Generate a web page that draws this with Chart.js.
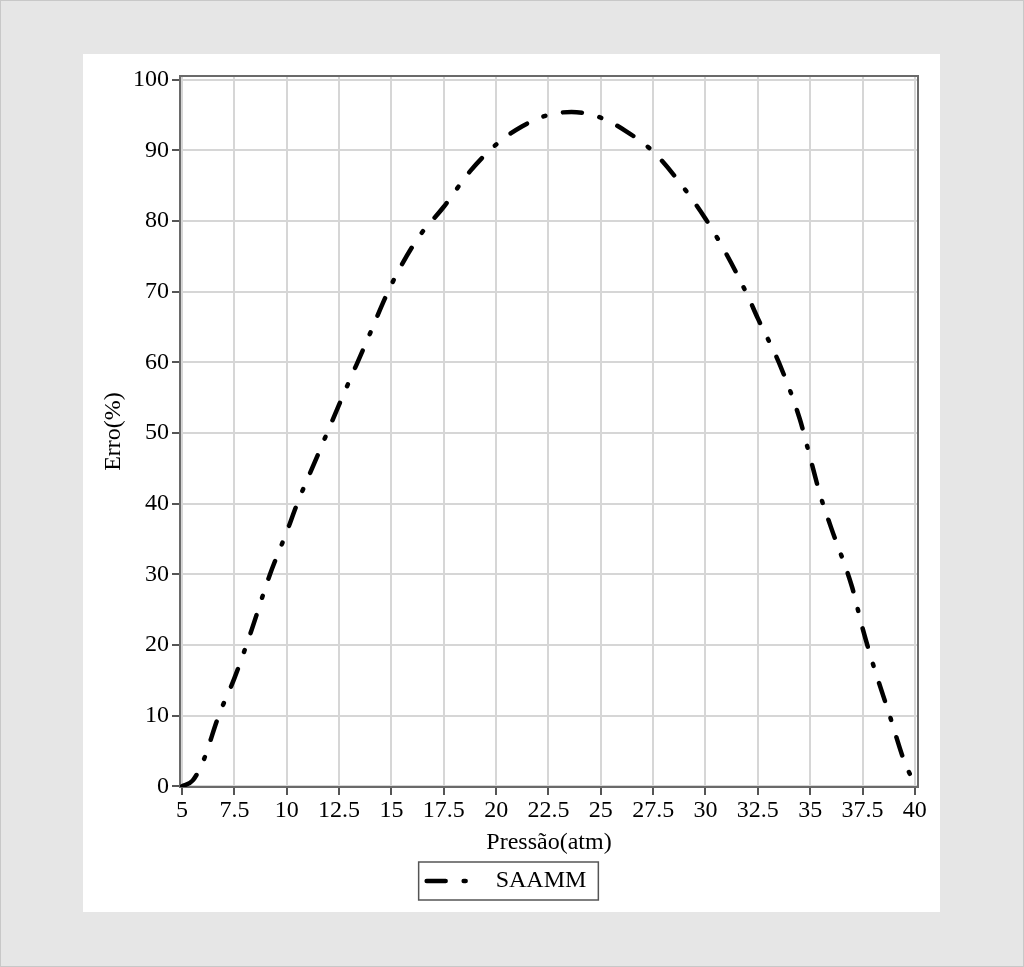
<!DOCTYPE html>
<html><head><meta charset="utf-8">
<script src="https://cdn.jsdelivr.net/npm/chart.js@4/dist/chart.umd.min.js"></script>
<style>
html,body{margin:0;padding:0;}
body{width:1024px;height:967px;background:#e6e6e6;position:relative;overflow:hidden;box-sizing:border-box;border:1px solid #c8c8c8;}
#panel{position:absolute;left:82px;top:53px;width:857px;height:858px;background:#fff;}
canvas{display:block;}
</style></head><body>
<div id="panel"><canvas id="c" width="857" height="858"></canvas></div>
<script>
const pressure = [5, 5.5, 6, 6.75, 7.5, 8.25, 9.2, 10, 10.5, 11.5, 12.5, 13.75, 15, 16.25, 17.5, 18.75, 20, 21.25, 22.5, 23.6, 25, 26.25, 27.5, 28.75, 30, 31, 32, 32.5, 33.5, 34.5, 35, 35.5, 36, 37, 37.5, 38, 38.8, 39.5, 40];
const erro = [0, 0.8, 3.5, 10, 15.3, 21.5, 30, 36, 40, 47, 54, 62.5, 71, 77.5, 82, 87, 90.8, 93.4, 95, 95.4, 94.6, 92.6, 89.8, 85.5, 80.3, 75.3, 69.5, 66.2, 60, 52, 46.5, 41, 36.6, 28.2, 22.4, 17.3, 10, 3.5, 0.3];
const xTicks = [5, 7.5, 10, 12.5, 15, 17.5, 20, 22.5, 25, 27.5, 30, 32.5, 35, 37.5, 40];
const yTicks = [0, 10, 20, 30, 40, 50, 60, 70, 80, 90, 100];
const seriesName = 'SAAMM';
const xTitle = 'Pressão(atm)';
const yTitle = 'Erro(%)';

const FONT = 'Liberation Serif, Times New Roman, serif';
const DASH = [19, 18, 2, 18];

const framePlugin = {
  id: 'frame',
  afterDraw(chart) {
    const {ctx, chartArea: a} = chart;
    ctx.save();
    ctx.strokeStyle = '#6a6a6a';
    ctx.lineWidth = 2;
    ctx.beginPath();
    ctx.moveTo(a.left, a.top); ctx.lineTo(a.right, a.top); ctx.lineTo(a.right, a.bottom);
    ctx.stroke();
    const lg = chart.legend;
    if (lg && lg.legendHitBoxes && lg.legendHitBoxes.length) {
      const h = lg.legendHitBoxes[0];
      ctx.strokeStyle = '#555';
      ctx.lineWidth = 1.5;
      ctx.strokeRect(h.left - 8, h.top - 7, h.width + 20, h.height + 14);
    }
    ctx.restore();
  }
};

new Chart(document.getElementById('c'), {
  type: 'line',
  data: {
    datasets: [{
      label: seriesName,
      data: pressure.map((p, i) => ({x: p, y: erro[i]})),
      borderColor: '#000',
      backgroundColor: '#000',
      borderWidth: 4.5,
      borderDash: DASH,
      borderCapStyle: 'round',
      pointRadius: 0,
      fill: false,
      cubicInterpolationMode: 'monotone'
    }]
  },
  options: {
    responsive: false,
    animation: false,
    devicePixelRatio: 1,
    layout: {padding: {left: 12, right: 22, top: 22, bottom: 9}},
    plugins: {
      legend: {
        position: 'bottom',
        labels: {
          usePointStyle: true,
          pointStyle: 'line',
          pointStyleWidth: 57,
          color: '#000',
          padding: 8,
          font: {family: FONT, size: 24},
          generateLabels: chart => Chart.defaults.plugins.legend.labels.generateLabels(chart).map(l => Object.assign(l, {
            lineDash: DASH, lineWidth: 4.5, strokeStyle: '#000', lineCap: 'round', pointStyle: 'line'
          }))
        }
      },
      tooltip: {enabled: false}
    },
    scales: {
      x: {
        type: 'linear',
        min: 4.9, max: 40.15,
        afterBuildTicks: s => { s.ticks = xTicks.map(v => ({value: v})); },
        afterFit: s => { s.height = 74; },
        ticks: {color: '#000', font: {family: FONT, size: 24}, padding: 1, maxRotation: 0, autoSkip: false, callback: v => String(v)},
        grid: {color: '#d6d6d6', lineWidth: 2, tickColor: '#555', tickLength: 8, tickWidth: 2},
        border: {color: '#6a6a6a', width: 2},
        title: {display: true, text: xTitle, color: '#000', font: {family: FONT, size: 24}, padding: {top: 4, bottom: 4}}
      },
      y: {
        type: 'linear',
        min: -0.1, max: 100.5,
        afterBuildTicks: s => { s.ticks = yTicks.map(v => ({value: v})); },
        afterFit: s => { s.width = 85; },
        ticks: {color: '#000', font: {family: FONT, size: 24}, padding: 3, autoSkip: false, callback: v => String(v)},
        grid: {color: '#d6d6d6', lineWidth: 2, tickColor: '#555', tickLength: 8, tickWidth: 2},
        border: {color: '#6a6a6a', width: 2},
        title: {display: true, text: yTitle, color: '#000', font: {family: FONT, size: 24}, padding: {top: 4, bottom: 4}}
      }
    }
  },
  plugins: [framePlugin]
});
</script>
</body></html>
